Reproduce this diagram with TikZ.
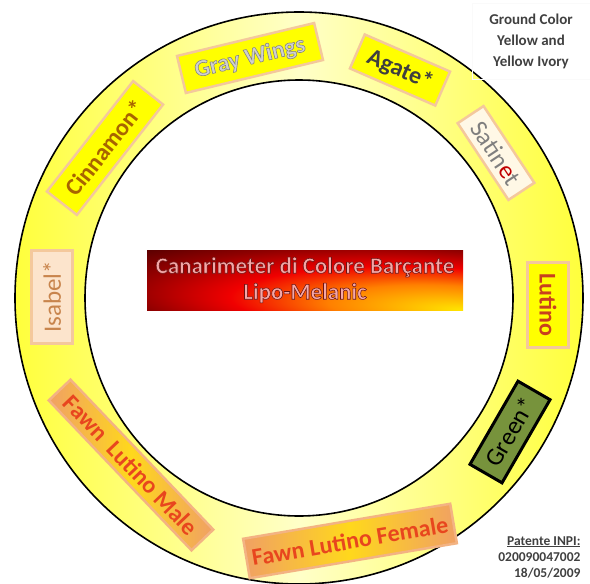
\documentclass[tikz,border=0pt]{standalone}
\usepackage{fontspec}
\setmainfont{Carlito}
\usetikzlibrary{calc}

\definecolor{ringbright}{HTML}{FFFF3C}
\definecolor{ringpale}{HTML}{FFFFC8}
\definecolor{tagedge}{HTML}{F4C89C}
\definecolor{tagyellow}{HTML}{FFFF00}
\definecolor{inkgray}{HTML}{404040}
\definecolor{silver}{HTML}{D0D0D0}
\definecolor{agategray}{HTML}{3F3F3F}
\definecolor{satingray}{HTML}{7F7F7F}
\definecolor{satinred}{HTML}{C00000}
\definecolor{satinfill}{HTML}{FFF8E6}
\definecolor{lutinored}{HTML}{C8401E}
\definecolor{greenfill}{HTML}{77933C}
\definecolor{fawnred}{HTML}{E8461E}
\definecolor{fawnedge}{HTML}{F0A064}
\definecolor{fawnmid}{HTML}{FFD81C}
\definecolor{isabelbrown}{HTML}{C8844C}
\definecolor{isabelfill}{HTML}{FCE4CC}
\definecolor{cinnamonbrown}{HTML}{A86400}
\definecolor{titledark}{HTML}{4A0000}
\definecolor{titlemaroon}{HTML}{900000}
\definecolor{titlered}{HTML}{F00000}
\definecolor{titleorange}{HTML}{FF8000}
\definecolor{titleyellow}{HTML}{FFE600}
\definecolor{titlepink}{HTML}{F4A8A8}

\pgfdeclareradialshading{titleglow}{\pgfpoint{25bp}{-25bp}}{color(0bp)=(titleyellow); color(15bp)=(titleorange); color(26bp)=(titlered); color(37bp)=(titlemaroon); color(47bp)=(titledark); color(60bp)=(titledark)}

% text drawn with a thin outline (#1 = stroke rgb, #2 = text)
\newcommand\ringedtext[2]{\special{pdf:code q 2 Tr 0.55 w #1 RG}#2\special{pdf:code Q}}

\tikzset{
    tag/.style={draw=tagedge, line width=2.5pt, fill=tagyellow, inner sep=0pt,
        font=\bfseries\fontsize{24}{26}\selectfont},
    plaintag/.style={tag, font=\fontsize{25}{27}\selectfont},
    fawntag/.style={tag, draw=fawnedge!80, left color=fawnedge, right color=fawnedge,
        middle color=fawnmid, text=fawnred},
}

\begin{document}
\begin{tikzpicture}[x=1pt, y=-1pt]
    \useasboundingbox (0,0) rectangle (590,584);
    \coordinate (O) at (299,298);

    % the ring
    \shade[even odd rule, left color=ringbright, right color=ringbright, middle color=ringpale]
        (O) ellipse [x radius=284, y radius=286] (O) ellipse [x radius=214, y radius=218];
    \draw[line width=1.6pt] (O) ellipse [x radius=284, y radius=286];
    \draw[line width=1.6pt] (O) ellipse [x radius=214, y radius=218];

    % mutations round the ring
    \node[tag, rotate=13.5, minimum width=141pt, minimum height=38pt, text=silver] (graywings) at (250,58)
        {\ringedtext{0.5 0.5 0.5}{Gray Wings}};
    \node[tag, rotate=-23.5, minimum width=93pt, minimum height=37pt, text=agategray] (agate) at (400,70) {Agate*};
    \node[plaintag, rotate=-56.5, minimum width=92pt, minimum height=31pt, fill=satinfill, text=satingray] (satinet) at (496,153)
        {Satin\textcolor{satinred}{e}t};
    \node[tag, rotate=-90, minimum width=85pt, minimum height=41pt, text=lutinored] (lutino) at (548,305) {Lutino};
    \node[plaintag, rotate=60, minimum width=96pt, minimum height=37pt, draw=black, line width=3pt, fill=greenfill] (green) at (510,432) {Green*};
    \node[fawntag, rotate=9.6, minimum width=210pt, minimum height=40pt] (ffemale) at (350,541) {Fawn Lutino Female};
    \node[fawntag, rotate=-46.4, minimum width=207pt, minimum height=30pt] (fmale) at (131,465) {Fawn~ Lutino Male};
    \node[plaintag, rotate=90, minimum width=93pt, minimum height=41pt, fill=isabelfill, text=isabelbrown] (isabel) at (52,297) {Isabel*};
    \node[tag, rotate=52, minimum width=140pt, minimum height=38pt, text=cinnamonbrown] (cinnamon) at (105,148) {Cinnamon*};

    % centre
    \node[shading=titleglow, minimum width=316pt, minimum height=60pt, inner sep=0pt,
        align=center, text=titlepink, font=\bfseries\fontsize{23}{26}\selectfont] (title) at (305,280)
        {\ringedtext{0.42 0.08 0.08}{Canarimeter di Colore Barçante}\\\ringedtext{0.42 0.08 0.08}{Lipo-Melanic}};

    % corner texts
    \node[draw=gray!4, align=center, text=inkgray, font=\bfseries\fontsize{15}{21}\selectfont,
        minimum width=118pt, minimum height=76pt] (ground) at (531,41) {Ground Color\\Yellow and\\Yellow Ivory};
    \node[anchor=east, align=right, text=inkgray, font=\bfseries\fontsize{13.5}{16}\selectfont] (patent) at (584,557)
        {\underline{Patente INPI:}\\020090047002\\18/05/2009};
\end{tikzpicture}
\end{document}
